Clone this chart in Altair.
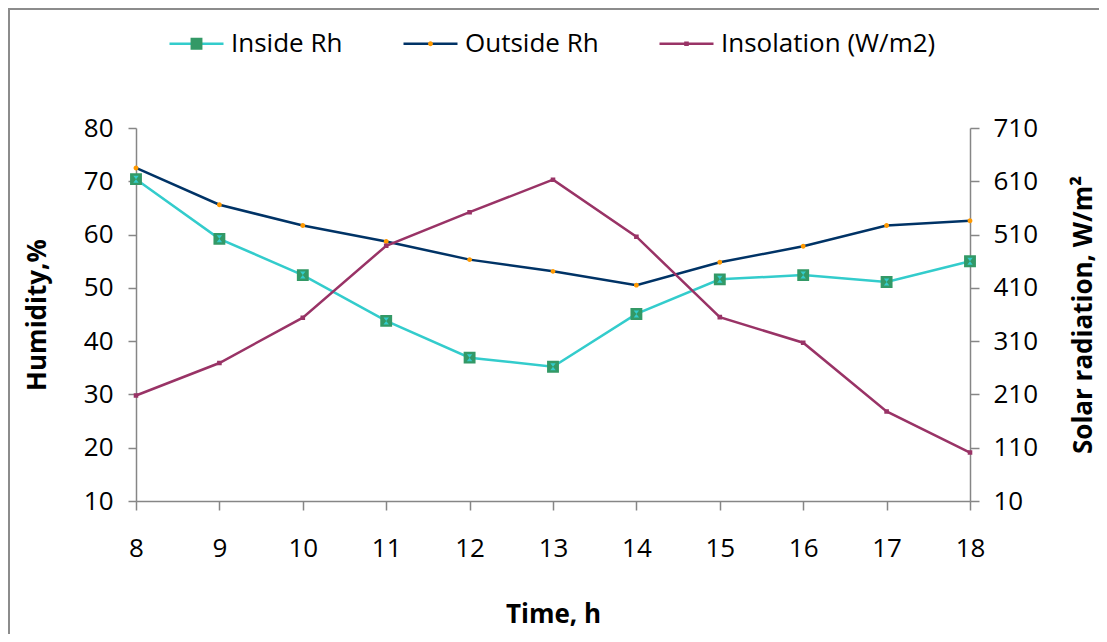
import altair as alt
import pandas as pd

# ---------------- data ----------------
hours = [8, 9, 10, 11, 12, 13, 14, 15, 16, 17, 18]
inside_rh = [70.4, 59.2, 52.4, 43.8, 36.9, 35.2, 45.1, 51.6, 52.4, 51.1, 55.0]
outside_rh = [72.5, 65.6, 61.7, 58.7, 55.3, 53.1, 50.5, 54.8, 57.8, 61.7, 62.6]
insolation = [208, 269, 354, 489, 552, 613, 506, 355, 307, 178, 101]

series_names = ["Inside Rh", "Outside Rh", "Insolation (W/m2)"]
humidity_ticks = [10, 20, 30, 40, 50, 60, 70, 80]
solar_ticks = [10, 110, 210, 310, 410, 510, 610, 710]

# ---------------- styles ----------------
line_colors = ["#33CCCC", "#003366", "#993366"]
marker_colors = ["#339966", "#FF9900", "#993366"]
# each path carries a zero-area guide segment so every legend symbol spans the same width
GUIDE = "M-1,0H1"
marker_paths = [
    GUIDE + "M-0.22,-0.22H0.22V0.22H-0.22Z",
    GUIDE + "M0.09,0A0.09,0.09,0,1,1,-0.09,0A0.09,0.09,0,1,1,0.09,0Z",
    GUIDE + "M-0.085,-0.085H0.085V0.085H-0.085Z",
]
FONT = "Open Sans"
GRAY = "#868686"
SYM = 2916
PREFIX = "_"  # marker keys differ from line keys so the two legends stay apart
marker_keys = [PREFIX + s for s in series_names]

humid = pd.DataFrame({
    "hour": hours + hours,
    "value": inside_rh + outside_rh,
    "series": [series_names[0]] * len(hours) + [series_names[1]] * len(hours),
})
humid["marker"] = PREFIX + humid["series"]
solar = pd.DataFrame({"hour": hours, "value": insolation, "series": series_names[2]})
solar["marker"] = PREFIX + solar["series"]
inside_only = humid[humid["series"] == series_names[0]]

legend_common = dict(
    orient="none", direction="horizontal", legendX=32, legendY=-113,
    title=None, symbolSize=SYM, symbolStrokeWidth=2.5, symbolOpacity=1,
    labelFont=FONT, labelFontSize=26, labelOffset=6, columnPadding=55,
    padding=0, labelLimit=500,
)
stroke_legend = alt.Legend(symbolType="stroke", labelColor="black", **legend_common)
marker_legend = alt.Legend(labelOpacity=0, symbolStrokeColor="transparent",
                           labelExpr="slice(datum.label, 1)", **legend_common)

axis_common = dict(
    grid=False, domainColor=GRAY, tickColor=GRAY, domainWidth=1.5, tickWidth=1.5,
    labelFont=FONT, labelFontSize=26, labelColor="black", labelFlush=False,
    titleFont=FONT, titleFontSize=26, titleFontWeight="bold", titleColor="black",
)

x_enc = alt.X(
    "hour:Q",
    scale=alt.Scale(domain=[8, 18], nice=False, zero=False),
    axis=alt.Axis(values=hours, title="Time, h", tickSize=9, labelPadding=25,
                  titleY=113.5, titleBaseline="middle", **axis_common),
)
y_left = alt.Y(
    "value:Q",
    scale=alt.Scale(domain=[10, 80], nice=False, zero=False),
    axis=alt.Axis(orient="left", values=humidity_ticks, title="Humidity,%",
                  tickSize=8, labelPadding=15, titleAngle=270, titleX=-98.5,
                  titleY=186.5, titleAlign="center", titleBaseline="middle",
                  **axis_common),
)
y_right = alt.Y(
    "value:Q",
    scale=alt.Scale(domain=[10, 710], nice=False, zero=False),
    axis=alt.Axis(orient="right", values=solar_ticks, title="Solar radiation, W/m²",
                  tickSize=9, labelPadding=14, titleAngle=270, titleX=113,
                  titleY=186.5, titleAlign="center", titleBaseline="middle",
                  **axis_common),
)

stroke_enc = alt.Stroke("series:N", scale=alt.Scale(domain=series_names, range=line_colors),
                        legend=stroke_legend)
fill_enc = alt.Fill("marker:N", scale=alt.Scale(domain=marker_keys, range=marker_colors),
                    legend=marker_legend)
shape_enc = alt.Shape("marker:N", scale=alt.Scale(domain=marker_keys, range=marker_paths),
                      legend=marker_legend)

humid_lines = alt.Chart(humid).mark_line(strokeWidth=2.5).encode(
    x=x_enc, y=y_left, stroke=stroke_enc, detail="series:N")
humid_points = alt.Chart(humid).mark_point(filled=True, size=SYM, opacity=1).encode(
    x=x_enc, y=y_left, fill=fill_enc, shape=shape_enc)
inside_overlay = alt.Chart(inside_only).mark_point(
    filled=True, size=SYM, opacity=1, color="#33CCCC",
    shape="M-0.1,-0.13H0.1L-0.1,0.13H0.1Z").encode(x=x_enc, y=y_left)

solar_line = alt.Chart(solar).mark_line(strokeWidth=2.5).encode(
    x=x_enc, y=y_right, stroke=stroke_enc)
solar_points = alt.Chart(solar).mark_point(filled=True, size=SYM, opacity=1).encode(
    x=x_enc, y=y_right, fill=fill_enc, shape=shape_enc)

left_layer = alt.layer(humid_lines, humid_points, inside_overlay)
right_layer = alt.layer(solar_line, solar_points)

frame = alt.Chart(pd.DataFrame({"f": [0]})).mark_rect(
    fill="transparent", stroke="#8c8c8c", strokeWidth=2).encode(
    x=alt.value(-127), y=alt.value(-119), x2=alt.value(1200), y2=alt.value(800))

chart = alt.layer(left_layer, right_layer, frame).resolve_scale(
    y="independent"
).properties(
    width=834, height=373,
    autosize=alt.AutoSizeParams(type="none"),
    padding={"left": 128, "top": 120, "right": 129, "bottom": 133},
    background="white",
).configure_view(stroke=None)

chart.save("out.html", embed_options={"renderer": "svg", "actions": False})
